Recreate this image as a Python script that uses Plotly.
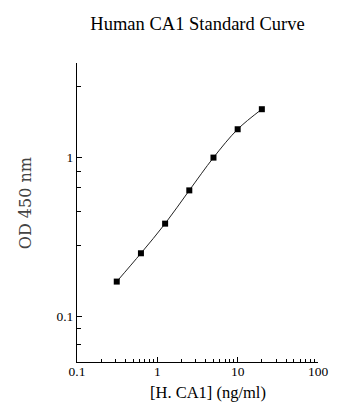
import plotly.graph_objects as go

conc = [0.3125, 0.625, 1.25, 2.5, 5, 10, 20]
od = [0.165, 0.249, 0.383, 0.621, 1.0, 1.51, 2.02]

x_tickvals = [0.1, 1, 10, 100]
x_ticktext = ["0.1", "1", "10", "100"]
y_tickvals = [0.1, 1]
y_ticktext = ["0.1", "1"]
y_minor_vals = [0.066, 0.084, 0.28, 0.46, 0.65, 0.82, 2.8]

font_family = "Liberation Serif"

fig = go.Figure()
fig.add_trace(go.Scatter(
    x=conc, y=od, mode="lines+markers",
    line=dict(color="#222222", width=1, shape="spline", smoothing=1),
    marker=dict(symbol="square", size=6, color="black"),
    showlegend=False,
))

fig.update_layout(
    width=360, height=420,
    margin=dict(l=77, r=42, t=63, b=58),
    paper_bgcolor="white", plot_bgcolor="white",
    font=dict(family=font_family, color="black", size=13),
    title=dict(text="Human CA1 Standard Curve", x=0.5, xref="paper",
               y=1 - 24 / 420, yref="container", yanchor="middle",
               font=dict(size=18.5, family=font_family, color="black")),
    xaxis=dict(type="log", range=[-1, 2], showgrid=False, zeroline=False,
               showline=True, linecolor="black", linewidth=1,
               ticks="inside", ticklen=5, tickcolor="black",
               tickvals=x_tickvals, ticktext=x_ticktext,
               tickfont=dict(size=13.5, family=font_family),
               ticklabelstandoff=-3,
               minor=dict(ticks="inside", ticklen=3, tickcolor="black", showgrid=False,
                          dtick="D1")),
    yaxis=dict(type="log", range=[-1.29, 0.597], showgrid=False, zeroline=False,
               showline=True, linecolor="black", linewidth=1,
               ticks="inside", ticklen=5, tickcolor="black",
               tickvals=y_tickvals, ticktext=y_ticktext,
               tickfont=dict(size=13.5, family=font_family),
               minor=dict(ticks="inside", ticklen=4, tickcolor="black", showgrid=False,
                          tickvals=y_minor_vals)),
    annotations=[
        dict(text="[H. CA1] (ng/ml)", xref="paper", yref="paper", x=0.5, y=0,
             yanchor="middle", xshift=10, yshift=-30, showarrow=False,
             font=dict(size=16.5, family=font_family, color="black")),
        dict(text="OD 450 nm", xref="paper", yref="paper", x=0, y=0.531,
             xanchor="center", yanchor="middle", xshift=-52, textangle=-90,
             showarrow=False, font=dict(size=16, family="DejaVu Serif", color="#444444")),
    ],
)

fig.write_html("out.html")
